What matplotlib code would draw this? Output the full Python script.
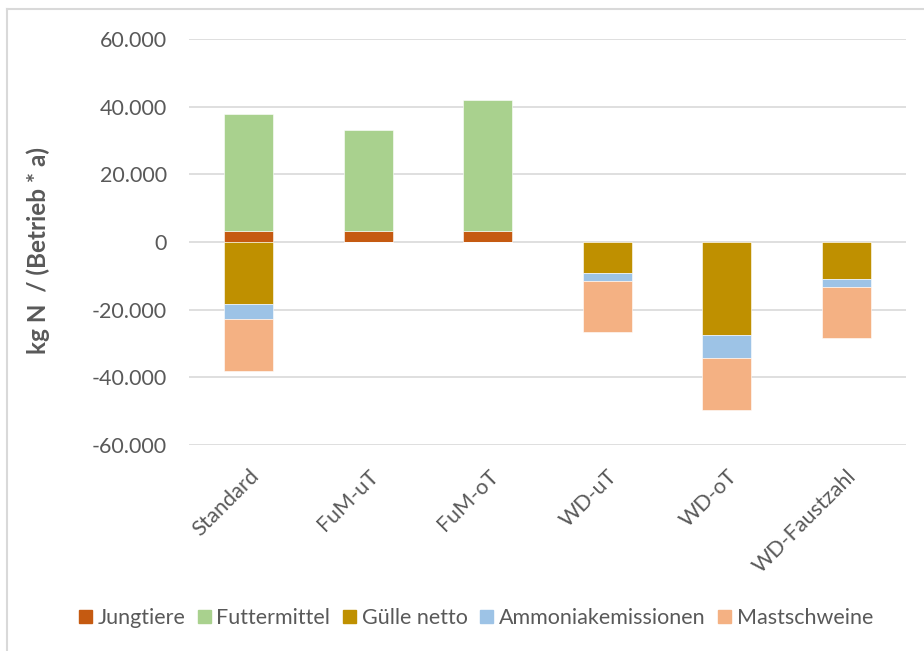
import numpy as np
import matplotlib.pyplot as plt
from matplotlib.lines import Line2D
from matplotlib.ticker import FuncFormatter, MultipleLocator

# categories and values (kg N per farm and year)
szenarien = ["Standard", "FuM-uT", "FuM-oT", "WD-uT", "WD-oT", "WD-Faustzahl"]
jungtiere = [3150, 3150, 3150, 0, 0, 0]
futtermittel = [34600, 30100, 38700, 0, 0, 0]
guelle_netto = [-18300, 0, 0, -9300, -27500, -10800]
ammoniak = [-4600, 0, 0, -2200, -6700, -2600]
mastschweine = [-15100, 0, 0, -15100, -15600, -15100]

farben = {
    "Jungtiere": "#C55A11",
    "Futtermittel": "#A9D18E",
    "Gülle netto": "#BF9000",
    "Ammoniakemissionen": "#9DC3E6",
    "Mastschweine": "#F4B183",
}

plt.rcParams['font.family'] = ['Lato', 'DejaVu Sans']
grau = "#595959"
fs = 15.5

fig = plt.figure(figsize=(9.24, 6.51), dpi=100)
ax = fig.add_axes([189 / 924, 1 - 445 / 651, (906 - 189) / 924, (445 - 39) / 651])

x = np.arange(len(szenarien))
w = 0.41
kw = dict(width=w, edgecolor="white", linewidth=0.4, zorder=3)

# positive stack
ax.bar(x, jungtiere, color=farben["Jungtiere"], label="Jungtiere", **kw)
ax.bar(x, futtermittel, bottom=jungtiere, color=farben["Futtermittel"], label="Futtermittel", **kw)

# negative stack
ax.bar(x, guelle_netto, color=farben["Gülle netto"], label="Gülle netto", **kw)
unten = np.array(guelle_netto)
ax.bar(x, ammoniak, bottom=unten, color=farben["Ammoniakemissionen"], label="Ammoniakemissionen", **kw)
unten = unten + np.array(ammoniak)
ax.bar(x, mastschweine, bottom=unten, color=farben["Mastschweine"], label="Mastschweine", **kw)

ax.set_ylim(-60000, 60000)
ax.set_xlim(-0.5, len(szenarien) - 0.5)
ax.yaxis.set_major_locator(MultipleLocator(20000))
ax.yaxis.set_major_formatter(FuncFormatter(lambda v, p: f"{int(v):,}".replace(",", ".")))
ax.grid(axis="y", color="#D9D9D9", linewidth=1.2, zorder=0)
for s in ax.spines.values():
    s.set_visible(False)
ax.tick_params(axis="both", length=0, colors=grau, labelsize=fs)
ax.tick_params(axis="y", pad=16)

ax.set_xticks(x)
ax.set_xticklabels(szenarien, rotation=45, ha="right", rotation_mode="anchor")
for lab in ax.get_xticklabels():
    lab.set_y(-0.04)

ax.set_ylabel("kg N  / (Betrieb * a)", color=grau, fontsize=17.5, fontweight="bold")
ax.yaxis.set_label_coords((50 - 189) / 717, 1 - (251 - 39) / 406)

handles = [plt.Rectangle((0, 0), 1, 1, color=farben[k]) for k in farben]
fig.legend(handles, list(farben.keys()), loc="center", bbox_to_anchor=(476 / 924, 1 - 618 / 651),
           ncol=5, frameon=False, fontsize=fs, labelcolor=grau, handlelength=0.6, handleheight=0.6,
           handletextpad=0.25, columnspacing=0.6)

# border of the copied chart area
fig.add_artist(Line2D([7 / 924, 1], [1 - 9 / 651, 1 - 9 / 651], color="#D9D9D9", linewidth=1.5))
fig.add_artist(Line2D([7 / 924, 7 / 924], [0, 1 - 9 / 651], color="#D9D9D9", linewidth=1.5))

fig.savefig("out.png", dpi=100)
